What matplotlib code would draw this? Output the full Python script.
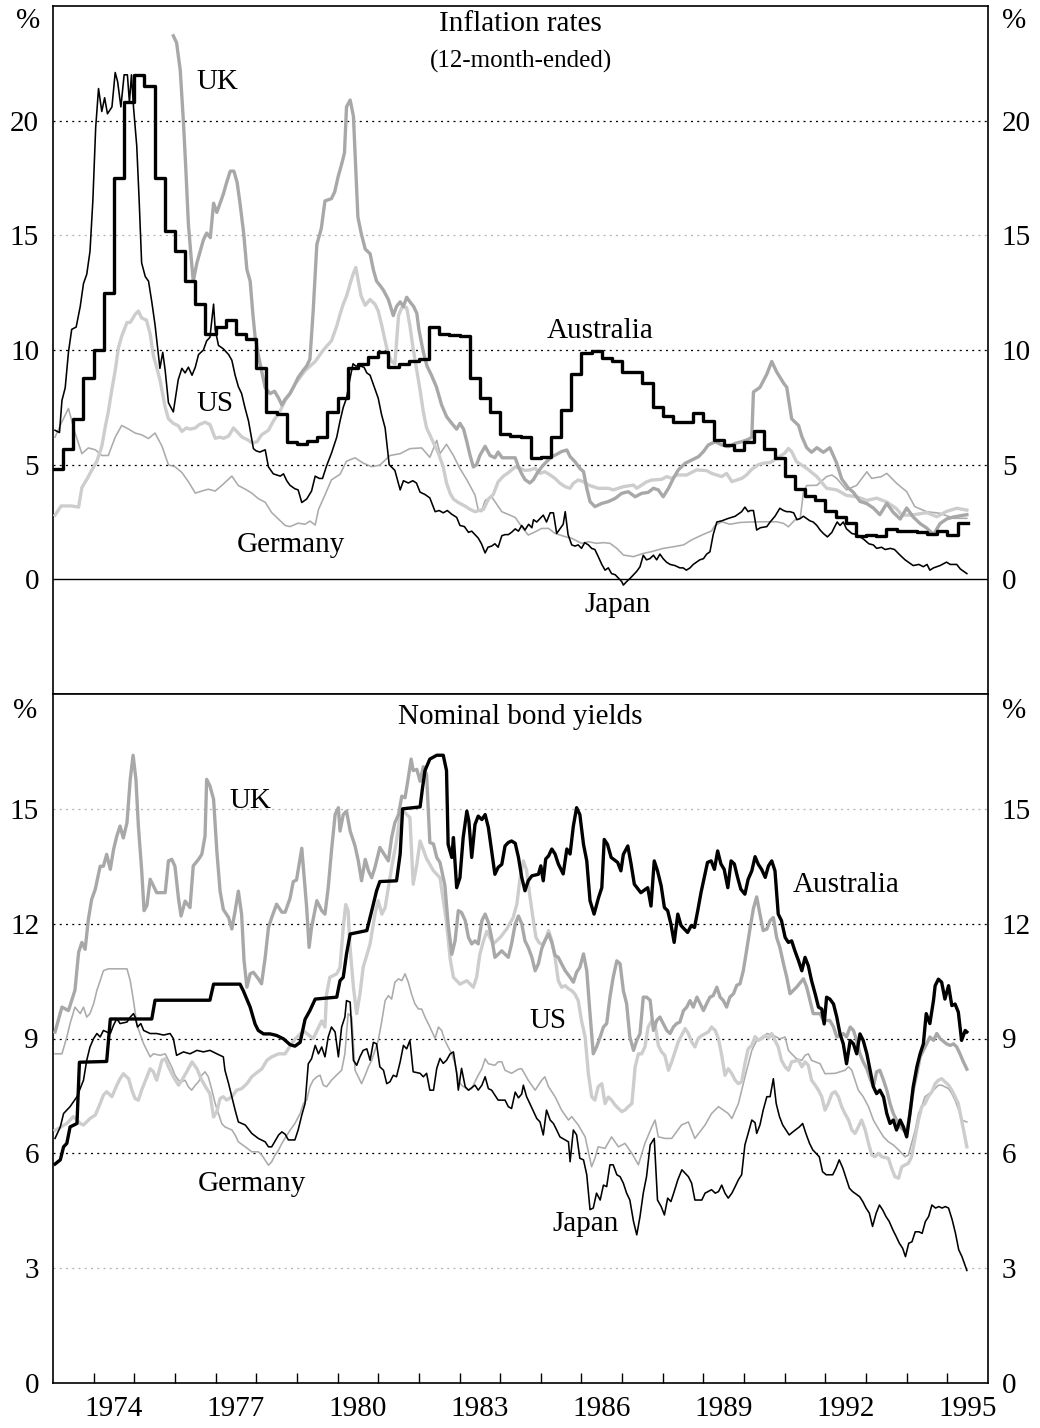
import numpy as np
import matplotlib
matplotlib.use("Agg")
import matplotlib.pyplot as plt
from matplotlib.transforms import blended_transform_factory

plt.rcParams['font.family'] = ['Liberation Serif', 'DejaVu Serif']

# ---------------------------------------------------------------- data
x_range = (1973, 1996)
year_ticks = list(range(1974, 1996))
year_labels = [1974, 1977, 1980, 1983, 1986, 1989, 1992, 1995]
infl_yticks = [0, 5, 10, 15, 20]
bond_yticks = [0, 3, 6, 9, 12, 15]
infl_ylim = (-5, 25)
bond_ylim = (0, 18)

# Australia inflation: quarterly, starting 1973 Q1
aus_infl_start = 1973.0
aus_infl_q = [4.8, 5.7, 7.0, 8.8, 10.0, 12.5, 17.5, 20.8, 22.0, 21.5, 17.5, 15.2,
              14.3, 13.0, 12.0, 10.7, 11.0, 11.3, 10.7, 10.5, 9.2, 7.3, 7.2, 6.0,
              5.9, 6.05, 6.2, 7.3, 7.9, 9.2, 9.4, 9.7, 9.9, 9.25, 9.4, 9.5,
              9.6, 11.0, 10.7, 10.65, 10.6, 8.8, 7.9, 7.3, 6.35, 6.25, 6.2, 5.3,
              5.35, 6.2, 7.4, 8.95, 9.85, 9.95, 9.65, 9.5, 9.06, 9.06, 8.55, 7.53,
              7.14, 6.88, 6.88, 7.24, 6.9, 6.08, 5.85, 5.65, 6.0, 6.47, 5.7, 5.3,
              4.5, 3.95, 3.65, 3.45, 3.0, 2.72, 2.44, 1.87, 1.95, 1.87, 2.19, 2.1,
              2.1, 2.05, 1.96, 2.12, 1.93, 2.47]

jpn_infl = [(1973.05, 6.5), (1973.16, 6.4), (1973.22, 7.8), (1973.30, 8.35), (1973.38, 9.9),
    (1973.46, 10.9), (1973.57, 11.0), (1973.67, 11.9), (1973.75, 12.9), (1973.83, 13.3),
    (1973.91, 14.3), (1973.98, 16.5), (1974.05, 19.7), (1974.12, 21.4), (1974.20, 20.4),
    (1974.27, 21.0), (1974.34, 20.3), (1974.45, 20.6), (1974.53, 22.1), (1974.59, 21.7),
    (1974.67, 20.6), (1974.75, 22.0), (1974.83, 22.0), (1974.88, 20.8), (1974.93, 22.0),
    (1974.98, 20.6), (1975.06, 18.9), (1975.12, 16.5), (1975.18, 13.8), (1975.27, 13.2),
    (1975.35, 13.0), (1975.43, 12.1), (1975.51, 11.1), (1975.58, 10.0), (1975.63, 9.2),
    (1975.70, 9.9), (1975.76, 9.1), (1975.84, 7.7), (1975.96, 7.3), (1976.08, 8.7),
    (1976.17, 9.2), (1976.25, 9.0), (1976.33, 9.25), (1976.42, 8.9), (1976.50, 9.25),
    (1976.58, 9.8), (1976.70, 10.0), (1976.78, 10.4), (1976.86, 10.55), (1976.95, 12.0),
    (1976.99, 10.9), (1977.07, 10.2), (1977.19, 10.05), (1977.32, 9.8), (1977.40, 9.55),
    (1977.48, 8.9), (1977.56, 8.4), (1977.64, 8.1), (1977.72, 7.5), (1977.81, 6.9),
    (1977.93, 5.7), (1978.00, 5.6), (1978.09, 5.55), (1978.22, 5.65), (1978.30, 4.9),
    (1978.42, 4.6), (1978.59, 4.5), (1978.67, 4.6), (1978.75, 4.3), (1978.83, 4.1),
    (1978.95, 3.95), (1979.03, 3.9), (1979.12, 3.35), (1979.24, 3.5), (1979.36, 3.85),
    (1979.45, 4.5), (1979.55, 4.4), (1979.63, 4.4), (1979.73, 4.95), (1979.85, 5.5),
    (1979.98, 6.2), (1980.06, 6.9), (1980.14, 7.5), (1980.22, 7.9), (1980.30, 8.7),
    (1980.38, 9.4), (1980.45, 9.3), (1980.55, 9.3), (1980.65, 9.25), (1980.72, 9.0),
    (1980.80, 8.9), (1980.90, 8.4), (1981.00, 7.9), (1981.08, 7.2), (1981.17, 6.6),
    (1981.22, 5.8), (1981.27, 5.0), (1981.41, 4.75), (1981.54, 3.9), (1981.62, 4.3),
    (1981.74, 4.2), (1981.85, 4.3), (1981.94, 4.2), (1982.03, 3.8), (1982.15, 3.7),
    (1982.27, 3.55), (1982.40, 2.95), (1982.50, 3.0), (1982.60, 2.9), (1982.70, 3.0),
    (1982.80, 2.85), (1982.93, 2.7), (1983.01, 2.35), (1983.12, 2.3), (1983.22, 2.05),
    (1983.30, 2.1), (1983.38, 1.95), (1983.46, 1.8), (1983.54, 1.55), (1983.63, 1.15),
    (1983.70, 1.4), (1983.79, 1.45), (1983.87, 1.55), (1983.95, 1.4), (1984.04, 1.9),
    (1984.12, 1.95), (1984.20, 1.95), (1984.28, 2.05), (1984.37, 2.2), (1984.45, 2.1),
    (1984.53, 2.35), (1984.61, 2.15), (1984.70, 2.4), (1984.78, 2.25), (1984.82, 2.6),
    (1984.90, 2.5), (1984.98, 2.65), (1985.06, 2.8), (1985.14, 2.5), (1985.23, 2.9),
    (1985.31, 2.9), (1985.39, 2.0), (1985.47, 2.2), (1985.55, 2.4), (1985.60, 2.95),
    (1985.67, 1.95), (1985.76, 1.5), (1985.84, 1.45), (1985.92, 1.5), (1986.00, 1.35),
    (1986.08, 1.6), (1986.17, 1.5), (1986.25, 1.35), (1986.33, 1.3), (1986.41, 1.0),
    (1986.50, 0.65), (1986.58, 0.4), (1986.66, 0.5), (1986.74, 0.25), (1986.83, 0.2),
    (1986.91, 0.05), (1986.99, -0.1), (1987.03, -0.25), (1987.11, -0.1), (1987.20, 0.05),
    (1987.28, 0.2), (1987.36, 0.35), (1987.44, 0.55), (1987.52, 1.05), (1987.60, 0.85),
    (1987.68, 0.9), (1987.77, 1.05), (1987.85, 0.85), (1987.93, 1.1), (1988.01, 0.9),
    (1988.09, 0.75), (1988.18, 0.65), (1988.30, 0.6), (1988.42, 0.5), (1988.50, 0.5),
    (1988.58, 0.4), (1988.67, 0.5), (1988.75, 0.65), (1988.83, 0.75), (1988.91, 0.85),
    (1989.00, 0.9), (1989.08, 1.1), (1989.16, 1.2), (1989.24, 1.95), (1989.33, 2.5),
    (1989.45, 2.55), (1989.60, 2.65), (1989.78, 2.75), (1989.94, 2.95), (1990.02, 3.15),
    (1990.10, 2.95), (1990.15, 3.0), (1990.23, 3.0), (1990.31, 2.15), (1990.40, 2.25),
    (1990.56, 2.3), (1990.64, 2.5), (1990.76, 2.75), (1990.88, 3.1), (1990.97, 3.0),
    (1991.05, 2.95), (1991.13, 2.95), (1991.22, 2.9), (1991.30, 2.6), (1991.38, 2.65),
    (1991.46, 2.75), (1991.54, 2.65), (1991.62, 2.55), (1991.70, 2.5), (1991.79, 2.35),
    (1991.87, 2.15), (1991.95, 2.0), (1992.05, 1.85), (1992.16, 2.05), (1992.23, 2.3),
    (1992.29, 2.5), (1992.36, 2.35), (1992.44, 2.5), (1992.52, 2.2), (1992.65, 2.0),
    (1992.77, 1.95), (1992.94, 1.75), (1993.07, 1.55), (1993.18, 1.5), (1993.26, 1.35),
    (1993.38, 1.4), (1993.47, 1.3), (1993.60, 1.35), (1993.70, 1.3), (1993.84, 1.05),
    (1993.96, 0.85), (1994.08, 0.7), (1994.16, 0.6), (1994.30, 0.65), (1994.41, 0.55),
    (1994.50, 0.65), (1994.57, 0.4), (1994.66, 0.5), (1994.82, 0.6), (1994.98, 0.75),
    (1995.07, 0.65), (1995.23, 0.65), (1995.32, 0.45), (1995.48, 0.25)]

us_infl = [(1973.05, 2.8), (1973.20, 3.2), (1973.45, 3.2), (1973.63, 3.15), (1973.71, 4.0),
    (1973.83, 4.35), (1973.95, 4.75), (1974.08, 5.15), (1974.20, 5.8), (1974.28, 6.6),
    (1974.36, 7.3), (1974.45, 8.3), (1974.53, 9.1), (1974.61, 10.1), (1974.69, 10.6),
    (1974.82, 11.2), (1974.90, 11.2), (1975.02, 11.55), (1975.10, 11.7), (1975.18, 11.4),
    (1975.30, 11.3), (1975.39, 10.7), (1975.47, 9.75), (1975.55, 9.25), (1975.63, 8.7),
    (1975.76, 7.5), (1975.84, 7.0), (1975.96, 6.8), (1976.08, 6.7), (1976.17, 6.45),
    (1976.28, 6.6), (1976.37, 6.55), (1976.50, 6.6), (1976.60, 6.75), (1976.74, 6.85),
    (1976.86, 6.75), (1976.99, 6.15), (1977.10, 6.2), (1977.20, 6.15), (1977.32, 6.25),
    (1977.44, 6.6), (1977.52, 6.45), (1977.65, 6.2), (1977.77, 6.1), (1977.90, 5.95),
    (1978.02, 6.0), (1978.13, 6.3), (1978.30, 6.5), (1978.42, 6.9), (1978.59, 7.35),
    (1978.71, 7.8), (1978.83, 8.1), (1978.95, 8.5), (1979.20, 9.1), (1979.45, 9.5),
    (1979.65, 10.0), (1979.85, 10.4), (1979.98, 11.05), (1980.06, 11.55), (1980.14, 12.0),
    (1980.22, 12.35), (1980.31, 12.9), (1980.39, 13.35), (1980.45, 13.6), (1980.51, 13.0),
    (1980.58, 12.35), (1980.68, 11.95), (1980.80, 12.2), (1980.92, 12.0), (1981.00, 11.7),
    (1981.09, 11.05), (1981.17, 10.4), (1981.25, 9.8), (1981.33, 9.5), (1981.41, 9.4),
    (1981.50, 11.5), (1981.58, 11.85), (1981.70, 11.85), (1981.78, 11.05), (1981.86, 10.05),
    (1981.95, 9.1), (1982.03, 8.25), (1982.11, 7.3), (1982.19, 6.6), (1982.27, 6.3),
    (1982.36, 5.95), (1982.48, 5.5), (1982.60, 4.9), (1982.68, 4.2), (1982.77, 3.75),
    (1982.85, 3.5), (1982.97, 3.35), (1983.13, 3.2), (1983.26, 3.05), (1983.38, 2.95),
    (1983.59, 3.05), (1983.71, 3.5), (1983.83, 3.7), (1983.95, 4.25), (1984.08, 4.5),
    (1984.20, 4.65), (1984.37, 4.9), (1984.49, 4.85), (1984.61, 4.75), (1984.73, 4.77),
    (1984.86, 4.84), (1984.98, 4.62), (1985.10, 4.69), (1985.23, 4.55), (1985.35, 4.4),
    (1985.47, 4.19), (1985.60, 4.04), (1985.72, 3.97), (1985.80, 4.19), (1985.92, 4.33),
    (1986.05, 4.26), (1986.17, 4.11), (1986.41, 3.97), (1986.66, 3.97), (1986.78, 3.9),
    (1987.03, 4.04), (1987.28, 4.11), (1987.36, 3.97), (1987.48, 4.11), (1987.60, 4.25),
    (1987.73, 4.33), (1987.97, 4.36), (1988.10, 4.48), (1988.22, 4.4), (1988.34, 4.55),
    (1988.59, 4.55), (1988.83, 4.77), (1989.08, 4.74), (1989.20, 4.62), (1989.45, 4.48),
    (1989.57, 4.62), (1989.70, 4.26), (1989.94, 4.4), (1990.06, 4.55), (1990.19, 4.8),
    (1990.35, 5.0), (1990.47, 5.06), (1990.65, 5.1), (1990.84, 5.32), (1991.00, 5.5),
    (1991.09, 5.71), (1991.17, 5.57), (1991.29, 5.13), (1991.54, 4.84), (1991.79, 4.48),
    (1992.03, 3.97), (1992.28, 3.9), (1992.52, 3.66), (1992.77, 3.6), (1993.02, 3.44),
    (1993.26, 3.54), (1993.51, 3.37), (1993.75, 3.08), (1993.88, 2.8), (1994.12, 2.8),
    (1994.49, 2.91), (1994.74, 2.73), (1994.98, 2.96), (1995.23, 3.1), (1995.48, 3.02)]

uk_infl = [(1975.96, 23.7), (1976.04, 23.4), (1976.13, 22.2), (1976.21, 19.9), (1976.27, 17.8),
    (1976.33, 15.5), (1976.39, 14.2), (1976.45, 13.0), (1976.54, 13.8), (1976.62, 14.3),
    (1976.70, 14.8), (1976.78, 15.1), (1976.87, 14.9), (1976.95, 16.4), (1977.03, 16.0),
    (1977.11, 16.4), (1977.19, 16.8), (1977.27, 17.3), (1977.36, 17.8), (1977.45, 17.8),
    (1977.53, 17.3), (1977.60, 16.4), (1977.69, 15.1), (1977.77, 13.5), (1977.85, 13.0),
    (1977.92, 11.5), (1977.97, 10.6), (1978.05, 9.8), (1978.13, 9.1), (1978.22, 8.35),
    (1978.34, 8.1), (1978.45, 8.2), (1978.55, 7.9), (1978.63, 7.6), (1978.71, 7.85),
    (1978.83, 8.1), (1978.92, 8.4), (1979.03, 8.8), (1979.15, 9.1), (1979.24, 9.3),
    (1979.32, 9.6), (1979.40, 11.7), (1979.49, 14.6), (1979.60, 15.3), (1979.69, 16.5),
    (1979.85, 16.6), (1979.93, 16.9), (1980.02, 17.6), (1980.10, 18.1), (1980.17, 18.6),
    (1980.22, 20.6), (1980.31, 20.9), (1980.39, 20.2), (1980.45, 17.8), (1980.50, 15.8),
    (1980.58, 15.1), (1980.68, 14.4), (1980.80, 14.2), (1980.88, 13.5), (1980.96, 13.0),
    (1981.05, 12.8), (1981.13, 12.6), (1981.25, 12.2), (1981.37, 11.5), (1981.45, 11.9),
    (1981.54, 12.1), (1981.62, 11.9), (1981.70, 12.3), (1981.78, 12.1), (1981.87, 11.9),
    (1981.95, 11.6), (1982.00, 10.9), (1982.11, 9.9), (1982.20, 9.3), (1982.31, 8.9),
    (1982.43, 8.4), (1982.56, 7.6), (1982.68, 7.1), (1982.81, 6.8), (1982.93, 6.55),
    (1983.01, 6.8), (1983.10, 6.55), (1983.18, 6.0), (1983.26, 5.4), (1983.34, 4.9),
    (1983.42, 5.0), (1983.50, 5.4), (1983.63, 5.8), (1983.75, 5.4), (1983.87, 5.3),
    (1983.95, 5.55), (1984.05, 5.3), (1984.20, 5.3), (1984.37, 5.3), (1984.45, 4.9),
    (1984.53, 4.6), (1984.61, 4.35), (1984.73, 4.2), (1984.82, 4.35), (1984.90, 4.6),
    (1985.02, 4.9), (1985.14, 5.13), (1985.27, 5.35), (1985.39, 5.45), (1985.51, 5.57),
    (1985.64, 5.64), (1985.72, 5.35), (1985.84, 5.13), (1985.96, 4.84), (1986.05, 4.7),
    (1986.13, 3.97), (1986.21, 3.39), (1986.33, 3.17), (1986.50, 3.31), (1986.66, 3.39),
    (1986.83, 3.53), (1986.99, 3.75), (1987.15, 3.82), (1987.32, 3.6), (1987.48, 3.75),
    (1987.64, 3.79), (1987.77, 3.97), (1987.89, 3.9), (1988.01, 3.6), (1988.14, 3.97),
    (1988.26, 4.4), (1988.38, 4.77), (1988.55, 5.06), (1988.71, 5.2), (1988.88, 5.35),
    (1989.00, 5.57), (1989.12, 5.86), (1989.29, 6.0), (1989.45, 5.86), (1989.61, 5.78),
    (1989.78, 5.93), (1989.94, 6.0), (1990.10, 6.1), (1990.19, 6.2), (1990.23, 8.17),
    (1990.39, 8.37), (1990.56, 8.95), (1990.68, 9.5), (1990.80, 9.05), (1990.97, 8.56),
    (1991.05, 8.37), (1991.17, 7.0), (1991.34, 6.71), (1991.42, 6.23), (1991.54, 5.74),
    (1991.66, 5.54), (1991.79, 5.74), (1991.95, 5.54), (1992.11, 5.74), (1992.28, 5.06),
    (1992.40, 4.38), (1992.56, 3.99), (1992.69, 3.79), (1992.85, 3.4), (1993.02, 3.3),
    (1993.18, 3.11), (1993.34, 2.82), (1993.51, 3.31), (1993.67, 2.92), (1993.84, 2.63),
    (1994.00, 3.11), (1994.16, 2.72), (1994.33, 2.43), (1994.49, 2.24), (1994.66, 1.95),
    (1994.82, 2.43), (1994.98, 2.63), (1995.15, 2.72), (1995.48, 2.82)]

ger_infl = [(1973.05, 6.2), (1973.22, 6.87), (1973.38, 7.45), (1973.54, 6.4), (1973.71, 5.48),
    (1973.87, 5.73), (1974.04, 5.65), (1974.20, 5.4), (1974.36, 5.4), (1974.53, 6.2),
    (1974.69, 6.71), (1974.86, 6.55), (1975.02, 6.38), (1975.18, 6.3), (1975.35, 6.14),
    (1975.51, 6.38), (1975.68, 5.81), (1975.84, 4.99), (1976.00, 4.91), (1976.17, 4.66),
    (1976.33, 4.26), (1976.50, 3.76), (1976.66, 3.85), (1976.82, 3.93), (1976.99, 3.85),
    (1977.15, 4.09), (1977.40, 4.5), (1977.56, 4.09), (1977.73, 3.93), (1977.89, 3.76),
    (1978.05, 3.52), (1978.22, 3.36), (1978.38, 2.91), (1978.55, 2.62), (1978.71, 2.35),
    (1978.83, 2.3), (1979.03, 2.45), (1979.20, 2.4), (1979.32, 2.54), (1979.45, 2.37),
    (1979.53, 3.04), (1979.69, 3.68), (1979.85, 4.34), (1980.06, 4.58), (1980.22, 5.15),
    (1980.43, 5.3), (1980.63, 5.07), (1980.84, 4.91), (1981.04, 4.98), (1981.29, 5.4),
    (1981.54, 5.48), (1981.78, 5.7), (1982.07, 5.73), (1982.27, 5.32), (1982.44, 6.06),
    (1982.52, 5.48), (1982.68, 5.89), (1982.85, 5.4), (1983.01, 4.83), (1983.18, 4.34),
    (1983.38, 3.68), (1983.46, 3.03), (1983.54, 2.95), (1983.63, 3.44), (1983.79, 3.6),
    (1984.04, 2.95), (1984.37, 2.7), (1984.53, 2.29), (1984.69, 1.93), (1984.86, 2.07),
    (1985.02, 2.22), (1985.19, 2.22), (1985.35, 2.0), (1985.60, 1.86), (1985.76, 1.79),
    (1986.00, 1.57), (1986.17, 1.64), (1986.37, 1.57), (1986.54, 1.6), (1986.70, 1.57),
    (1986.87, 1.35), (1987.03, 1.06), (1987.28, 0.99), (1987.52, 1.13), (1987.73, 1.21),
    (1988.01, 1.35), (1988.26, 1.42), (1988.51, 1.5), (1988.71, 1.72), (1988.96, 1.93),
    (1989.20, 2.11), (1989.28, 2.34), (1989.45, 2.51), (1989.65, 2.4), (1989.90, 2.48),
    (1990.15, 2.5), (1990.47, 2.51), (1990.80, 2.51), (1990.97, 2.44), (1991.09, 2.29),
    (1991.25, 2.59), (1991.38, 2.66), (1991.46, 3.8), (1991.54, 4.09), (1991.79, 4.1),
    (1992.03, 4.48), (1992.16, 4.55), (1992.28, 4.4), (1992.52, 3.9), (1992.77, 4.1),
    (1993.02, 4.69), (1993.14, 4.4), (1993.38, 4.48), (1993.51, 4.62), (1993.75, 4.19),
    (1994.00, 3.82), (1994.20, 3.17), (1994.49, 2.95), (1994.82, 2.88), (1995.15, 2.66),
    (1995.48, 2.66)]

aus_bond = [(1973.05, 5.72), (1973.18, 5.83), (1973.26, 6.17), (1973.34, 6.26), (1973.42, 6.69),
    (1973.59, 6.78), (1973.65, 8.38), (1974.32, 8.4), (1974.41, 9.51), (1975.43, 9.51),
    (1975.51, 10.0), (1976.86, 10.0), (1976.95, 10.42), (1977.60, 10.42), (1977.68, 10.25),
    (1977.85, 9.82), (1977.97, 9.38), (1978.05, 9.21), (1978.18, 9.12), (1978.34, 9.12),
    (1978.50, 9.08), (1978.67, 8.99), (1978.83, 8.84), (1978.95, 8.8), (1979.08, 8.9),
    (1979.20, 9.5), (1979.32, 9.73), (1979.45, 10.03), (1979.98, 10.08), (1980.06, 10.51),
    (1980.14, 10.6), (1980.22, 11.21), (1980.31, 11.73), (1980.72, 11.82), (1980.80, 12.16),
    (1980.88, 12.51), (1980.96, 12.86), (1981.04, 13.1), (1981.45, 13.12), (1981.54, 13.82),
    (1981.60, 15.0), (1982.03, 15.05), (1982.09, 15.55), (1982.15, 16.0), (1982.27, 16.3),
    (1982.44, 16.4), (1982.60, 16.4), (1982.68, 16.0), (1982.72, 14.07), (1982.81, 13.73),
    (1982.85, 14.25), (1982.93, 12.94), (1983.01, 13.2), (1983.09, 14.25), (1983.18, 14.94),
    (1983.23, 14.68), (1983.30, 13.73), (1983.38, 14.59), (1983.46, 14.81), (1983.55, 14.72),
    (1983.63, 14.85), (1983.71, 14.51), (1983.79, 13.9), (1983.87, 13.29), (1983.95, 13.47),
    (1984.04, 13.55), (1984.12, 14.03), (1984.20, 14.12), (1984.28, 14.16), (1984.37, 14.1),
    (1984.45, 13.73), (1984.53, 13.21), (1984.61, 12.86), (1984.69, 13.12), (1984.78, 13.25),
    (1984.94, 13.29), (1985.00, 13.51), (1985.06, 13.12), (1985.12, 13.69), (1985.19, 13.77),
    (1985.27, 13.95), (1985.35, 13.82), (1985.43, 13.56), (1985.55, 13.3), (1985.64, 13.95),
    (1985.72, 13.82), (1985.80, 14.55), (1985.88, 15.03), (1985.96, 14.85), (1986.05, 14.07),
    (1986.13, 13.64), (1986.21, 12.6), (1986.31, 12.25), (1986.42, 12.68), (1986.50, 12.94),
    (1986.56, 14.2), (1986.64, 14.07), (1986.73, 13.73), (1986.89, 13.6), (1986.97, 13.38),
    (1987.03, 13.81), (1987.14, 14.03), (1987.22, 13.56), (1987.30, 13.03), (1987.46, 12.81),
    (1987.63, 12.94), (1987.71, 12.46), (1987.79, 13.64), (1987.87, 13.38), (1987.96, 12.99),
    (1988.04, 12.42), (1988.12, 12.34), (1988.20, 11.99), (1988.28, 11.51), (1988.37, 12.25),
    (1988.45, 11.95), (1988.61, 11.77), (1988.70, 11.95), (1988.78, 11.9), (1988.86, 12.34),
    (1988.94, 12.81), (1989.02, 13.2), (1989.10, 13.6), (1989.19, 13.64), (1989.27, 13.42),
    (1989.35, 13.9), (1989.43, 13.56), (1989.51, 13.42), (1989.60, 12.94), (1989.68, 13.64),
    (1989.76, 13.56), (1989.84, 13.21), (1989.92, 12.9), (1990.02, 12.77), (1990.10, 13.16),
    (1990.19, 13.38), (1990.27, 13.75), (1990.35, 13.55), (1990.43, 13.42), (1990.52, 13.21),
    (1990.60, 13.51), (1990.68, 13.64), (1990.76, 13.38), (1990.84, 12.25), (1990.92, 12.08),
    (1991.01, 11.64), (1991.09, 11.51), (1991.17, 11.55), (1991.25, 11.29), (1991.34, 11.03),
    (1991.42, 10.77), (1991.50, 11.12), (1991.58, 10.9), (1991.66, 10.51), (1991.75, 10.16),
    (1991.83, 9.82), (1991.91, 9.77), (1991.97, 9.38), (1992.03, 10.08), (1992.11, 10.03),
    (1992.20, 9.9), (1992.28, 9.56), (1992.36, 9.12), (1992.44, 8.86), (1992.52, 8.34),
    (1992.61, 8.95), (1992.69, 8.86), (1992.77, 8.6), (1992.85, 9.12), (1992.93, 8.95),
    (1993.02, 8.6), (1993.10, 8.17), (1993.18, 7.74), (1993.26, 7.56), (1993.34, 7.65),
    (1993.43, 7.47), (1993.51, 7.04), (1993.59, 6.78), (1993.67, 6.87), (1993.75, 6.61),
    (1993.84, 6.87), (1993.92, 6.69), (1994.00, 6.43), (1994.08, 7.04), (1994.16, 7.74),
    (1994.25, 8.26), (1994.33, 8.6), (1994.41, 8.86), (1994.48, 9.65), (1994.57, 9.39),
    (1994.66, 10.0), (1994.70, 10.38), (1994.78, 10.55), (1994.86, 10.47), (1994.94, 10.03),
    (1995.03, 10.38), (1995.11, 9.86), (1995.19, 9.9), (1995.27, 9.69), (1995.35, 8.95),
    (1995.44, 9.21), (1995.48, 9.17)]

uk_bond = [(1973.05, 9.17), (1973.22, 9.82), (1973.38, 9.73), (1973.54, 10.26), (1973.63, 11.25),
    (1973.71, 11.51), (1973.79, 11.33), (1973.87, 12.11), (1973.95, 12.63), (1974.04, 12.9),
    (1974.16, 13.5), (1974.24, 13.5), (1974.32, 13.81), (1974.41, 13.42), (1974.49, 13.94),
    (1974.57, 14.29), (1974.65, 14.55), (1974.73, 14.24), (1974.82, 14.64), (1974.90, 15.77),
    (1974.97, 16.4), (1975.04, 15.77), (1975.10, 14.55), (1975.18, 13.42), (1975.24, 12.34),
    (1975.31, 12.47), (1975.39, 13.16), (1975.47, 12.99), (1975.55, 12.81), (1975.76, 12.81),
    (1975.84, 13.64), (1975.92, 13.68), (1976.00, 13.5), (1976.09, 12.63), (1976.15, 12.2),
    (1976.25, 12.59), (1976.37, 12.42), (1976.45, 13.51), (1976.58, 13.68), (1976.66, 13.81),
    (1976.74, 14.29), (1976.78, 15.77), (1976.86, 15.6), (1976.95, 15.25), (1977.03, 13.9),
    (1977.11, 12.85), (1977.19, 12.37), (1977.32, 12.16), (1977.40, 11.86), (1977.48, 12.33),
    (1977.56, 12.85), (1977.64, 12.24), (1977.70, 11.03), (1977.77, 10.34), (1977.85, 10.69),
    (1977.93, 10.73), (1978.05, 10.56), (1978.13, 10.43), (1978.22, 11.12), (1978.30, 11.9),
    (1978.38, 12.16), (1978.50, 12.51), (1978.63, 12.3), (1978.71, 12.3), (1978.83, 12.66),
    (1978.91, 13.1), (1978.99, 13.14), (1979.12, 13.97), (1979.16, 13.45), (1979.24, 12.42),
    (1979.30, 11.38), (1979.36, 11.9), (1979.49, 12.6), (1979.61, 12.34), (1979.69, 12.25),
    (1979.77, 12.94), (1979.85, 13.9), (1979.94, 14.85), (1980.02, 15.03), (1980.06, 14.42),
    (1980.14, 14.85), (1980.22, 14.94), (1980.31, 14.42), (1980.43, 14.03), (1980.51, 13.64),
    (1980.59, 13.12), (1980.68, 13.68), (1980.76, 13.38), (1980.84, 13.2), (1980.92, 13.47),
    (1981.04, 13.99), (1981.17, 13.77), (1981.25, 13.64), (1981.33, 14.25), (1981.41, 14.64),
    (1981.50, 14.85), (1981.58, 15.33), (1981.66, 15.29), (1981.74, 15.81), (1981.81, 16.3),
    (1981.86, 16.0), (1981.95, 16.03), (1982.03, 15.72), (1982.11, 16.1), (1982.19, 15.9),
    (1982.27, 14.12), (1982.36, 14.08), (1982.44, 13.73), (1982.52, 13.6), (1982.64, 13.0),
    (1982.72, 11.99), (1982.81, 11.2), (1982.89, 11.55), (1982.97, 12.34), (1983.05, 12.29),
    (1983.14, 12.08), (1983.22, 11.64), (1983.30, 11.47), (1983.38, 11.55), (1983.46, 11.47),
    (1983.55, 12.08), (1983.63, 12.25), (1983.71, 12.03), (1983.79, 11.64), (1983.87, 11.12),
    (1983.95, 11.2), (1984.04, 11.29), (1984.12, 11.2), (1984.20, 11.12), (1984.28, 11.47),
    (1984.37, 11.99), (1984.45, 12.2), (1984.53, 12.0), (1984.61, 11.55), (1984.69, 11.38),
    (1984.78, 11.12), (1984.86, 10.77), (1984.94, 10.95), (1985.02, 11.34), (1985.10, 11.56),
    (1985.19, 11.73), (1985.27, 11.51), (1985.35, 11.17), (1985.43, 11.12), (1985.51, 10.95),
    (1985.60, 10.77), (1985.72, 10.6), (1985.80, 10.47), (1985.88, 10.73), (1985.96, 10.86),
    (1986.05, 11.21), (1986.13, 10.77), (1986.21, 9.65), (1986.29, 8.6), (1986.37, 8.78),
    (1986.46, 9.04), (1986.54, 9.3), (1986.62, 9.39), (1986.70, 10.08), (1986.78, 10.6),
    (1986.87, 11.03), (1986.95, 10.95), (1987.03, 10.25), (1987.11, 9.91), (1987.19, 9.04),
    (1987.28, 8.69), (1987.36, 8.95), (1987.44, 9.13), (1987.52, 10.08), (1987.60, 10.08),
    (1987.69, 10.0), (1987.77, 9.21), (1987.85, 9.47), (1987.93, 9.56), (1988.01, 9.39),
    (1988.10, 9.21), (1988.18, 9.13), (1988.26, 9.3), (1988.34, 9.39), (1988.42, 9.43),
    (1988.51, 9.73), (1988.59, 9.82), (1988.67, 9.99), (1988.75, 9.82), (1988.84, 10.08),
    (1988.92, 9.91), (1989.00, 9.73), (1989.08, 9.91), (1989.16, 10.08), (1989.24, 10.12),
    (1989.33, 10.34), (1989.41, 10.08), (1989.49, 9.99), (1989.57, 9.82), (1989.65, 10.08),
    (1989.74, 10.17), (1989.82, 10.39), (1989.90, 10.43), (1989.98, 10.77), (1990.06, 11.29),
    (1990.15, 11.9), (1990.23, 12.4), (1990.31, 12.7), (1990.39, 12.25), (1990.47, 11.82),
    (1990.56, 11.86), (1990.64, 12.08), (1990.72, 12.16), (1990.80, 11.64), (1990.88, 11.38),
    (1990.97, 10.95), (1991.05, 10.6), (1991.13, 10.17), (1991.29, 10.34), (1991.46, 10.56),
    (1991.54, 10.34), (1991.62, 9.99), (1991.70, 9.65), (1991.87, 9.65), (1991.95, 9.47),
    (1992.11, 9.47), (1992.20, 9.3), (1992.28, 9.04), (1992.44, 9.13), (1992.52, 9.04),
    (1992.61, 9.3), (1992.69, 9.21), (1992.77, 8.95), (1992.85, 8.6), (1992.93, 8.39),
    (1993.02, 8.21), (1993.10, 7.95), (1993.18, 7.74), (1993.26, 8.13), (1993.34, 8.17),
    (1993.43, 7.91), (1993.51, 7.65), (1993.59, 7.3), (1993.67, 7.04), (1993.75, 6.87),
    (1993.84, 6.69), (1993.92, 6.61), (1994.00, 6.52), (1994.08, 7.04), (1994.16, 7.65),
    (1994.25, 8.08), (1994.33, 8.52), (1994.41, 8.69), (1994.49, 8.86), (1994.57, 9.04),
    (1994.66, 8.95), (1994.74, 9.13), (1994.82, 9.0), (1994.98, 8.86), (1995.07, 8.82),
    (1995.15, 8.86), (1995.23, 8.78), (1995.31, 8.6), (1995.39, 8.4), (1995.48, 8.2)]

us_bond = [(1973.05, 6.6), (1973.34, 6.78), (1973.50, 6.96), (1973.67, 6.78), (1973.75, 6.74),
    (1973.91, 6.91), (1974.04, 7.0), (1974.16, 7.3), (1974.24, 7.52), (1974.32, 7.61),
    (1974.45, 7.48), (1974.57, 7.78), (1974.65, 7.95), (1974.73, 8.08), (1974.86, 7.95),
    (1974.94, 7.65), (1975.02, 7.43), (1975.10, 7.39), (1975.18, 7.65), (1975.31, 8.0),
    (1975.39, 8.21), (1975.47, 8.13), (1975.55, 7.91), (1975.68, 8.43), (1975.76, 8.47),
    (1975.84, 8.26), (1975.96, 8.0), (1976.09, 7.78), (1976.17, 7.91), (1976.29, 8.13),
    (1976.42, 8.39), (1976.54, 8.21), (1976.66, 7.91), (1976.78, 7.69), (1976.86, 7.56),
    (1976.95, 6.95), (1977.03, 7.09), (1977.11, 7.43), (1977.19, 7.48), (1977.27, 7.39),
    (1977.40, 7.48), (1977.52, 7.65), (1977.64, 7.69), (1977.77, 7.82), (1977.89, 8.0),
    (1977.98, 8.08), (1978.14, 8.21), (1978.26, 8.43), (1978.38, 8.52), (1978.55, 8.6),
    (1978.71, 8.6), (1978.83, 8.8), (1978.95, 8.98), (1979.16, 9.2), (1979.40, 9.0),
    (1979.61, 9.46), (1979.69, 9.3), (1979.73, 10.16), (1979.81, 10.6), (1979.98, 10.69),
    (1980.06, 10.86), (1980.14, 11.9), (1980.20, 12.5), (1980.26, 12.34), (1980.30, 11.47),
    (1980.39, 10.34), (1980.47, 9.65), (1980.55, 10.16), (1980.63, 10.86), (1980.80, 11.47),
    (1980.92, 12.25), (1981.00, 12.6), (1981.09, 12.25), (1981.17, 12.42), (1981.33, 13.47),
    (1981.45, 14.16), (1981.54, 14.85), (1981.62, 14.94), (1981.78, 14.77), (1981.86, 13.03),
    (1981.95, 13.55), (1982.03, 14.16), (1982.19, 13.7), (1982.36, 13.38), (1982.52, 13.2),
    (1982.68, 12.03), (1982.77, 11.08), (1982.85, 10.6), (1983.01, 10.42), (1983.18, 10.51),
    (1983.34, 10.34), (1983.42, 10.6), (1983.50, 11.2), (1983.59, 11.55), (1983.67, 11.8),
    (1983.83, 11.47), (1984.00, 11.64), (1984.16, 11.86), (1984.32, 12.16), (1984.41, 12.51),
    (1984.49, 13.2), (1984.57, 13.64), (1984.65, 13.4), (1984.72, 12.8), (1984.80, 12.2),
    (1984.88, 11.64), (1984.96, 11.5), (1985.05, 11.45), (1985.12, 11.6), (1985.19, 11.82),
    (1985.27, 11.56), (1985.35, 11.12), (1985.43, 10.51), (1985.51, 10.34), (1985.60, 10.38),
    (1985.68, 10.3), (1985.76, 10.25), (1985.84, 10.16), (1985.92, 9.99), (1986.00, 9.47),
    (1986.09, 9.04), (1986.17, 8.08), (1986.25, 7.48), (1986.33, 7.39), (1986.41, 7.74),
    (1986.50, 7.82), (1986.58, 7.3), (1986.66, 7.47), (1986.74, 7.39), (1986.83, 7.26),
    (1986.91, 7.17), (1986.99, 7.09), (1987.07, 7.13), (1987.15, 7.22), (1987.24, 7.3),
    (1987.32, 8.26), (1987.40, 8.6), (1987.48, 8.6), (1987.56, 8.78), (1987.64, 9.3),
    (1987.73, 9.47), (1987.81, 9.39), (1987.89, 8.82), (1987.97, 8.65), (1988.05, 8.56),
    (1988.14, 8.17), (1988.22, 8.39), (1988.30, 8.65), (1988.38, 8.91), (1988.46, 9.08),
    (1988.55, 9.26), (1988.63, 9.13), (1988.71, 8.91), (1988.79, 8.78), (1988.87, 9.0),
    (1988.96, 9.08), (1989.12, 9.17), (1989.20, 9.3), (1989.29, 9.21), (1989.37, 8.99),
    (1989.45, 8.56), (1989.53, 8.04), (1989.61, 8.21), (1989.70, 8.08), (1989.78, 7.91),
    (1989.86, 7.82), (1989.94, 7.87), (1990.02, 8.34), (1990.10, 8.73), (1990.19, 8.82),
    (1990.27, 9.05), (1990.35, 8.95), (1990.52, 9.08), (1990.60, 9.0), (1990.68, 9.13),
    (1990.76, 8.95), (1990.84, 8.78), (1990.92, 8.43), (1991.01, 8.26), (1991.09, 8.17),
    (1991.17, 8.39), (1991.34, 8.43), (1991.42, 8.26), (1991.50, 8.39), (1991.58, 8.3),
    (1991.66, 7.91), (1991.75, 7.78), (1991.83, 7.65), (1991.91, 7.48), (1991.99, 7.13),
    (1992.07, 7.3), (1992.16, 7.56), (1992.24, 7.61), (1992.32, 7.48), (1992.40, 7.22),
    (1992.48, 7.04), (1992.57, 6.87), (1992.65, 6.61), (1992.73, 6.52), (1992.81, 6.69),
    (1992.89, 6.87), (1992.98, 6.61), (1993.06, 6.26), (1993.14, 5.96), (1993.22, 5.91),
    (1993.30, 6.0), (1993.39, 5.91), (1993.55, 5.87), (1993.63, 5.61), (1993.71, 5.39),
    (1993.80, 5.35), (1993.88, 5.65), (1994.04, 5.74), (1994.12, 5.91), (1994.21, 6.43),
    (1994.29, 6.87), (1994.37, 7.22), (1994.45, 7.3), (1994.53, 7.48), (1994.62, 7.61),
    (1994.70, 7.82), (1994.78, 7.91), (1994.86, 7.95), (1994.94, 7.87), (1995.03, 7.78),
    (1995.11, 7.65), (1995.19, 7.48), (1995.27, 7.3), (1995.35, 6.87), (1995.48, 6.17)]

ger_bond = [(1973.05, 8.6), (1973.22, 8.6), (1973.34, 9.04), (1973.42, 9.39), (1973.54, 9.82),
    (1973.67, 9.65), (1973.75, 9.82), (1973.83, 9.56), (1973.91, 9.65), (1974.00, 9.91),
    (1974.08, 10.26), (1974.16, 10.51), (1974.24, 10.77), (1974.36, 10.82), (1974.82, 10.82),
    (1974.90, 10.51), (1974.98, 9.99), (1975.06, 9.38), (1975.14, 9.12), (1975.23, 8.86),
    (1975.31, 8.69), (1975.39, 8.52), (1975.47, 8.6), (1975.64, 8.56), (1975.76, 8.6),
    (1975.84, 8.43), (1975.92, 8.26), (1976.00, 8.04), (1976.09, 7.91), (1976.17, 7.87),
    (1976.25, 7.91), (1976.33, 7.74), (1976.41, 7.65), (1976.50, 7.78), (1976.58, 7.87),
    (1976.66, 8.04), (1976.74, 8.13), (1976.82, 8.0), (1976.90, 7.69), (1976.99, 7.3),
    (1977.07, 7.04), (1977.15, 6.78), (1977.23, 6.69), (1977.40, 6.61), (1977.48, 6.48),
    (1977.56, 6.3), (1977.73, 6.17), (1977.89, 6.04), (1978.05, 6.04), (1978.14, 5.95),
    (1978.22, 5.82), (1978.30, 5.69), (1978.38, 5.78), (1978.46, 5.95), (1978.55, 6.09),
    (1978.63, 6.26), (1978.71, 6.4), (1978.83, 6.6), (1978.95, 6.78), (1979.08, 7.04),
    (1979.16, 7.3), (1979.24, 7.39), (1979.32, 7.74), (1979.40, 7.91), (1979.49, 8.0),
    (1979.57, 8.04), (1979.65, 7.78), (1979.73, 7.74), (1979.85, 7.91), (1980.02, 8.09),
    (1980.10, 8.17), (1980.18, 8.6), (1980.26, 9.65), (1980.35, 9.56), (1980.43, 8.17),
    (1980.51, 8.0), (1980.59, 7.82), (1980.68, 8.04), (1980.76, 8.26), (1980.84, 8.43),
    (1980.92, 8.69), (1981.00, 8.95), (1981.09, 9.47), (1981.17, 9.99), (1981.25, 10.12),
    (1981.33, 10.03), (1981.41, 10.47), (1981.50, 10.56), (1981.58, 10.51), (1981.66, 10.69),
    (1981.74, 10.47), (1981.82, 10.16), (1981.90, 9.91), (1981.99, 9.77), (1982.07, 9.77),
    (1982.15, 9.56), (1982.23, 9.39), (1982.31, 9.21), (1982.40, 9.0), (1982.48, 9.3),
    (1982.56, 9.21), (1982.64, 8.95), (1982.72, 8.78), (1982.81, 8.6), (1982.89, 8.34),
    (1982.97, 7.91), (1983.05, 7.78), (1983.22, 7.65), (1983.30, 7.69), (1983.38, 7.87),
    (1983.46, 8.04), (1983.55, 8.21), (1983.63, 8.47), (1983.71, 8.34), (1983.87, 8.3),
    (1983.95, 8.39), (1984.04, 8.39), (1984.12, 8.17), (1984.28, 8.09), (1984.45, 8.2),
    (1984.53, 8.21), (1984.69, 7.91), (1984.86, 7.65), (1985.02, 7.91), (1985.10, 8.0),
    (1985.19, 7.74), (1985.35, 7.48), (1985.51, 7.13), (1985.68, 6.87), (1985.76, 6.96),
    (1985.92, 6.74), (1986.09, 6.43), (1986.17, 6.04), (1986.25, 5.65), (1986.33, 5.87),
    (1986.41, 6.17), (1986.58, 6.13), (1986.74, 6.43), (1986.91, 6.17), (1987.07, 6.26),
    (1987.24, 6.0), (1987.40, 5.7), (1987.56, 6.26), (1987.73, 6.69), (1987.81, 6.87),
    (1987.89, 6.43), (1988.06, 6.39), (1988.22, 6.39), (1988.46, 6.74), (1988.63, 6.82),
    (1988.79, 6.39), (1989.04, 6.74), (1989.20, 7.04), (1989.37, 7.22), (1989.61, 7.04),
    (1989.70, 6.91), (1989.86, 7.3), (1990.02, 7.99), (1990.19, 8.69), (1990.31, 8.95),
    (1990.47, 9.0), (1990.56, 9.13), (1990.72, 9.08), (1990.88, 8.99), (1991.01, 9.04),
    (1991.09, 8.69), (1991.17, 8.6), (1991.29, 8.47), (1991.42, 8.43), (1991.50, 8.56),
    (1991.58, 8.6), (1991.66, 8.43), (1991.87, 8.34), (1991.99, 8.08), (1992.24, 8.09),
    (1992.48, 8.17), (1992.57, 8.26), (1992.65, 8.17), (1992.73, 7.91), (1992.81, 7.65),
    (1992.93, 7.48), (1993.06, 7.22), (1993.18, 6.87), (1993.30, 6.65), (1993.43, 6.43),
    (1993.55, 6.3), (1993.67, 6.22), (1993.80, 6.09), (1993.88, 6.0), (1993.96, 5.91),
    (1994.04, 5.95), (1994.12, 6.26), (1994.21, 6.61), (1994.29, 7.04), (1994.37, 7.22),
    (1994.45, 7.48), (1994.62, 7.61), (1994.78, 7.78), (1994.86, 7.78), (1995.03, 7.69),
    (1995.11, 7.56), (1995.19, 7.39), (1995.28, 7.13), (1995.35, 6.87), (1995.48, 6.82)]

jpn_bond = [(1973.05, 6.39), (1973.18, 6.69), (1973.26, 7.04), (1973.42, 7.22), (1973.59, 7.48),
    (1973.75, 7.91), (1973.83, 8.43), (1973.91, 8.78), (1974.00, 9.0), (1974.08, 9.13),
    (1974.16, 9.04), (1974.24, 9.21), (1974.41, 9.13), (1974.49, 9.35), (1974.57, 9.52),
    (1974.65, 9.39), (1974.82, 9.43), (1974.90, 9.56), (1974.98, 9.65), (1975.02, 9.56),
    (1975.08, 9.3), (1975.16, 9.39), (1975.23, 9.21), (1975.39, 9.13), (1975.55, 9.13),
    (1975.72, 9.09), (1975.88, 9.13), (1975.96, 9.0), (1976.04, 8.56), (1976.21, 8.65),
    (1976.37, 8.6), (1976.54, 8.69), (1976.70, 8.65), (1976.86, 8.69), (1977.03, 8.6),
    (1977.19, 8.52), (1977.23, 8.17), (1977.32, 7.82), (1977.40, 7.48), (1977.48, 7.13),
    (1977.56, 6.82), (1977.73, 6.74), (1977.89, 6.52), (1978.05, 6.39), (1978.22, 6.3),
    (1978.30, 6.17), (1978.38, 6.17), (1978.55, 6.48), (1978.63, 6.56), (1978.71, 6.5),
    (1978.79, 6.35), (1978.95, 6.35), (1979.03, 6.61), (1979.12, 7.0), (1979.20, 7.3),
    (1979.28, 8.34), (1979.36, 8.47), (1979.45, 8.82), (1979.53, 8.6), (1979.61, 8.78),
    (1979.69, 8.52), (1979.77, 9.04), (1979.85, 9.3), (1979.94, 9.17), (1980.02, 8.52),
    (1980.06, 8.9), (1980.10, 9.3), (1980.18, 9.56), (1980.22, 9.99), (1980.31, 9.95),
    (1980.39, 8.43), (1980.47, 8.3), (1980.55, 8.52), (1980.63, 8.69), (1980.72, 8.73),
    (1980.80, 8.43), (1980.88, 8.9), (1980.96, 8.86), (1981.04, 8.26), (1981.13, 8.17),
    (1981.21, 7.82), (1981.29, 7.87), (1981.37, 8.04), (1981.45, 8.0), (1981.54, 8.39),
    (1981.62, 8.82), (1981.70, 8.73), (1981.78, 8.95), (1981.86, 8.13), (1982.03, 8.09),
    (1982.11, 8.0), (1982.19, 8.09), (1982.27, 7.65), (1982.36, 7.65), (1982.44, 8.22),
    (1982.52, 8.48), (1982.60, 8.35), (1982.68, 8.43), (1982.77, 8.6), (1982.85, 8.65),
    (1982.93, 8.09), (1982.97, 7.65), (1983.05, 8.22), (1983.14, 7.74), (1983.22, 7.65),
    (1983.38, 7.78), (1983.46, 7.65), (1983.55, 7.78), (1983.63, 8.0), (1983.71, 7.69),
    (1983.79, 7.65), (1983.87, 7.52), (1983.95, 7.39), (1984.12, 7.39), (1984.20, 7.22),
    (1984.28, 7.17), (1984.37, 7.6), (1984.45, 7.45), (1984.53, 7.55), (1984.57, 7.78),
    (1984.65, 7.48), (1984.73, 7.3), (1984.82, 7.09), (1984.90, 6.91), (1984.98, 6.82),
    (1985.06, 6.48), (1985.14, 7.13), (1985.23, 6.87), (1985.31, 6.78), (1985.39, 6.61),
    (1985.47, 6.43), (1985.60, 6.35), (1985.68, 6.3), (1985.72, 5.78), (1985.80, 6.61),
    (1985.88, 6.48), (1985.96, 5.87), (1986.05, 5.83), (1986.13, 5.44), (1986.21, 4.53),
    (1986.29, 4.57), (1986.37, 4.96), (1986.46, 4.78), (1986.54, 5.17), (1986.62, 5.13),
    (1986.70, 5.7), (1986.78, 5.7), (1986.87, 5.44), (1986.95, 5.39), (1987.03, 5.22),
    (1987.11, 4.96), (1987.19, 4.78), (1987.28, 4.22), (1987.36, 3.87), (1987.44, 4.35),
    (1987.52, 4.96), (1987.60, 5.39), (1987.69, 6.22), (1987.79, 6.39), (1987.87, 4.78),
    (1987.96, 4.61), (1988.04, 4.39), (1988.12, 4.83), (1988.20, 4.74), (1988.28, 5.0),
    (1988.37, 5.31), (1988.47, 5.57), (1988.55, 5.48), (1988.63, 5.39), (1988.71, 5.22),
    (1988.79, 4.78), (1988.96, 4.78), (1989.04, 4.96), (1989.20, 5.05), (1989.29, 4.96),
    (1989.37, 5.0), (1989.45, 5.17), (1989.53, 4.96), (1989.61, 4.83), (1989.70, 4.96),
    (1989.78, 5.13), (1989.86, 5.31), (1989.94, 5.44), (1990.02, 6.22), (1990.10, 6.52),
    (1990.19, 6.87), (1990.27, 6.8), (1990.31, 6.52), (1990.39, 6.74), (1990.47, 7.13),
    (1990.56, 7.48), (1990.64, 7.48), (1990.72, 7.95), (1990.79, 7.3), (1990.87, 6.96),
    (1990.95, 6.74), (1991.03, 6.61), (1991.11, 6.48), (1991.20, 6.56), (1991.36, 6.69),
    (1991.44, 6.78), (1991.52, 6.52), (1991.61, 6.26), (1991.69, 6.09), (1991.77, 6.0),
    (1991.85, 5.91), (1991.93, 5.52), (1992.02, 5.44), (1992.18, 5.44), (1992.26, 5.61),
    (1992.34, 5.83), (1992.43, 5.61), (1992.51, 5.35), (1992.59, 5.09), (1992.67, 5.0),
    (1992.84, 4.87), (1992.92, 4.74), (1993.00, 4.57), (1993.08, 4.44), (1993.16, 4.09),
    (1993.25, 4.44), (1993.33, 4.65), (1993.41, 4.52), (1993.49, 4.35), (1993.57, 4.22),
    (1993.66, 4.0), (1993.74, 3.83), (1993.82, 3.65), (1993.90, 3.52), (1993.97, 3.3),
    (1994.05, 3.65), (1994.13, 3.69), (1994.21, 3.95), (1994.30, 3.95), (1994.38, 3.91),
    (1994.46, 4.22), (1994.54, 4.35), (1994.62, 4.65), (1994.71, 4.57), (1994.79, 4.61),
    (1994.87, 4.57), (1994.95, 4.61), (1995.03, 4.57), (1995.12, 4.26), (1995.20, 3.91),
    (1995.28, 3.48), (1995.36, 3.3), (1995.48, 2.94)]

# ---------------------------------------------------------------- styles
BLACK = '#000000'
UK_C = '#a8a8a8'
US_C = '#cdcdcd'
GER_C = '#ababab'
THICK = 2.4
THIN = 1.15
FS = 21
GRID_DASH = (0, (1.6, 3.4))

fig = plt.figure(figsize=(10.4, 14.28), dpi=100)
ax1 = fig.add_axes([53 / 1040, 1 - 694 / 1428, 935 / 1040, 688 / 1428])
ax2 = fig.add_axes([53 / 1040, 1 - 1383 / 1428, 935 / 1040, 689 / 1428])


def xy(pairs):
    a = np.array(pairs, dtype=float)
    return a[:, 0], a[:, 1]


def style_axes(ax, yticks, ylim, light_levels):
    ax.set_xlim(*x_range)
    ax.set_ylim(*ylim)
    for s in ax.spines.values():
        s.set_linewidth(1.2)
        s.set_color('black')
    for v in yticks:
        if v == 0:
            if ylim[0] < 0:
                ax.axhline(v, color='black', lw=1.0, zorder=1)
            continue
        col = '#b4b4b4' if v in light_levels else '#000000'
        ax.axhline(v, color=col, lw=0.9, linestyle=GRID_DASH, zorder=1)
    ax.set_yticks(yticks)
    ax.set_yticklabels([str(v) for v in yticks])
    ax.tick_params(axis='y', which='both', length=0, labelleft=True,
                   labelright=True, labelsize=FS, pad=10)
    return blended_transform_factory(ax.transAxes, ax.transData)


# ---------------- top panel: inflation
t1 = style_axes(ax1, infl_yticks, infl_ylim, [15])
ax1.tick_params(axis='x', which='both', bottom=False, top=False, labelbottom=False)

aus_x = aus_infl_start + 0.25 * np.arange(len(aus_infl_q) + 1)
aus_y = np.append(aus_infl_q, aus_infl_q[-1])

x, y = xy(ger_infl); ax1.plot(x, y, color=GER_C, lw=THIN, zorder=3)
x, y = xy(us_infl); ax1.plot(x, y, color=US_C, lw=THICK, zorder=4)
x, y = xy(uk_infl); ax1.plot(x, y, color=UK_C, lw=THICK, zorder=4)
x, y = xy(jpn_infl); ax1.plot(x, y, color=BLACK, lw=THIN, zorder=5)
ax1.plot(aus_x, aus_y, color=BLACK, lw=THICK, drawstyle='steps-post', zorder=6)

ax1.text(1984.5, 24.2, 'Inflation rates', ha='center', va='center', fontsize=FS)
ax1.text(1984.5, 22.6, '(12-month-ended)', ha='center', va='center', fontsize=18)
ax1.text(1977.05, 21.7, 'UK', ha='center', va='center', fontsize=FS)
ax1.text(1976.98, 7.65, 'US', ha='center', va='center', fontsize=FS)
ax1.text(1978.85, 1.5, 'Germany', ha='center', va='center', fontsize=FS)
ax1.text(1986.45, 10.85, 'Australia', ha='center', va='center', fontsize=FS)
ax1.text(1986.9, -1.1, 'Japan', ha='center', va='center', fontsize=FS)
ax1.text(-0.027, 24.35, '%', transform=t1, ha='center', va='center', fontsize=FS)
ax1.text(1.028, 24.35, '%', transform=t1, ha='center', va='center', fontsize=FS)

# ---------------- bottom panel: bond yields
t2 = style_axes(ax2, bond_yticks, bond_ylim, [15, 3])
ax2.set_xticks([yr + 0.5 for yr in year_labels])
ax2.set_xticklabels([str(yr) for yr in year_labels])
ax2.set_xticks(year_ticks, minor=True)
ax2.tick_params(axis='x', which='major', length=0, labelsize=FS, pad=9)
ax2.tick_params(axis='x', which='minor', direction='in', length=7, width=1.0,
                top=False, bottom=True)

x, y = xy(ger_bond); ax2.plot(x, y, color=GER_C, lw=THIN, zorder=3)
x, y = xy(us_bond); ax2.plot(x, y, color=US_C, lw=THICK, zorder=4)
x, y = xy(uk_bond); ax2.plot(x, y, color=UK_C, lw=THICK, zorder=4)
x, y = xy(jpn_bond); ax2.plot(x, y, color=BLACK, lw=THIN, zorder=5)
x, y = xy(aus_bond); ax2.plot(x, y, color=BLACK, lw=THICK, zorder=6)

ax2.text(1984.5, 17.4, 'Nominal bond yields', ha='center', va='center', fontsize=FS)
ax2.text(1977.85, 15.2, 'UK', ha='center', va='center', fontsize=FS)
ax2.text(1977.9, 5.2, 'Germany', ha='center', va='center', fontsize=FS)
ax2.text(1985.17, 9.47, 'US', ha='center', va='center', fontsize=FS)
ax2.text(1986.1, 4.15, 'Japan', ha='center', va='center', fontsize=FS)
ax2.text(1992.5, 13.0, 'Australia', ha='center', va='center', fontsize=FS)
ax2.text(-0.03, 17.55, '%', transform=t2, ha='center', va='center', fontsize=FS)
ax2.text(1.028, 17.55, '%', transform=t2, ha='center', va='center', fontsize=FS)

fig.savefig('out.png', dpi=100)
